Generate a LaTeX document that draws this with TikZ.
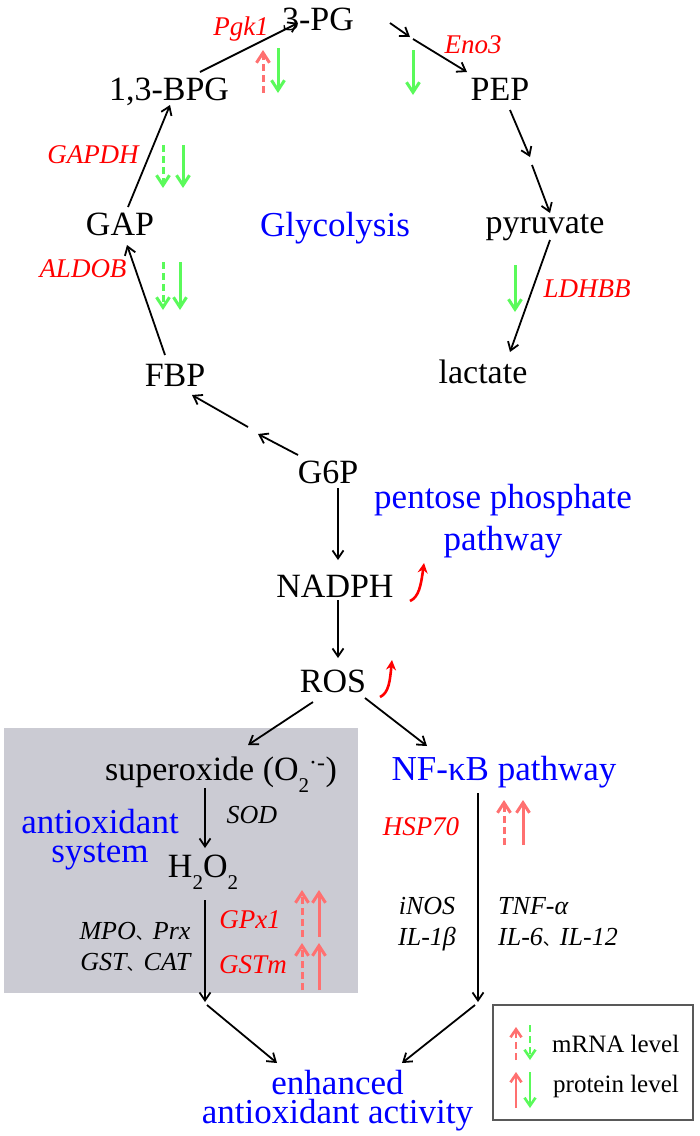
\documentclass[tikz,border=0pt]{standalone}
\usepackage{fontspec}
\setmainfont{Liberation Serif}
\newfontfamily\cjk{Noto Sans CJK SC}
\usetikzlibrary{arrows.meta,calc}
\definecolor{gr}{RGB}{90,250,90}
\definecolor{sal}{RGB}{255,112,112}
\definecolor{boxgray}{RGB}{203,203,211}
\definecolor{myblue}{RGB}{0,0,255}
\definecolor{myred}{RGB}{255,0,0}
\newcommand\dun{{\upshape\cjk\fontsize{17}{17}\selectfont 、}}
\newcommand\sbt[1]{\raisebox{-0.36em}{\fontsize{21}{21}\selectfont #1}}
\begin{document}
\begin{tikzpicture}[x=1pt,y=-1pt,
  lbl/.style={anchor=base,inner sep=0pt,font=\fontsize{34}{40}\selectfont},
  blu/.style={anchor=base,inner sep=0pt,text=myblue,font=\fontsize{35}{40}\selectfont},
  blu2/.style={anchor=base,inner sep=0pt,text=myblue,align=center,font=\fontsize{35}{28.5}\selectfont},
  enz/.style={anchor=base,inner sep=0pt,text=myred,font=\fontsize{27}{32}\selectfont\itshape},
  sm/.style={anchor=base,inner sep=0pt,font=\fontsize{26}{31}\selectfont\itshape},
  legt/.style={anchor=base west,inner sep=0pt,font=\fontsize{25}{30}\selectfont},
  arr/.style={line width=1.8pt,-{Straight Barb[length=8pt,width=11pt]}},
  ind/.style={line width=3pt,-{Straight Barb[length=10pt,width=13pt]}},
  lind/.style={line width=2.6pt,-{Straight Barb[length=8pt,width=11pt]}},
  dsh/.style={dash pattern=on 7pt off 4pt},
  uparr/.style={myred,line width=2.6pt,-{Stealth[length=10pt,width=10pt]}}
]
\useasboundingbox (0,0) rectangle (700,1136);
% antioxidant box
\fill[boxgray] (4,728) rectangle (358,993);

% nodes
\node[lbl] (pg3) at (318,30) {3-PG};
\node[lbl] (bpg) at (169,100) {1,3-BPG};
\node[lbl] (pep) at (500,100) {PEP};
\node[lbl] (gap) at (120,235) {GAP};
\node[lbl] (pyr) at (545,233) {pyruvate};
\node[lbl] (lac) at (483,383) {lactate};
\node[lbl] (fbp) at (175,386) {FBP};
\node[lbl] (g6p) at (328,483) {G6P};
\node[lbl] (nadph) at (335,597) {NADPH};
\node[lbl] (ros) at (333,692) {ROS};
\node[lbl] (sup) at (221,780) {superoxide (O\sbt{2}\textsuperscript{·-})};
\node[lbl] (h2o2) at (203,877) {H\sbt{2}O\sbt{2}};

\node[blu] (glyc) at (335,236) {Glycolysis};
\node[blu] (ppp1) at (503,508) {pentose phosphate};
\node[blu] (ppp2) at (503,550) {pathway};
\node[blu] (nfkb) at (504,780) {NF-κB pathway};
\node[blu2] (anti) at (100,862) {antioxidant\\system};
\node[blu2] (enh) at (337.5,1123) {enhanced\\antioxidant activity};

\node[enz] (pgk) at (241,35) {Pgk1};
\node[enz] (eno) at (473,53) {Eno3};
\node[enz] (gapdh) at (93,163) {GAPDH};
\node[enz] (aldob) at (83,277) {ALDOB};
\node[enz] (ldh) at (587,297) {LDHBB};
\node[enz] (hsp) at (421,835) {HSP70};
\node[enz] (gpx) at (250,928) {GPx1};
\node[enz] (gstm) at (253,973) {GSTm};

\node[sm] (sod) at (252,823) {SOD};
\node[sm,align=right] (mpo) at (135,970) {MPO\dun Prx\\GST\dun CAT};
\node[sm,align=center] (inos) at (427,945) {iNOS\\IL-1β};
\node[sm,align=left,anchor=base west] (tnf) at (498,945) {TNF-α\\IL-6\dun IL-12};

% break points
\coordinate (k1) at (411.5,38);
\coordinate (k2) at (531,161);
\coordinate (k3) at (253,430.5);
\coordinate (k4) at (205,1003);
\coordinate (k5) at (478,1003);

% connectors
\draw[arr] ($(bpg.base)+(31,-28)$) -- ($(pg3.base)+(-20,-7)$);
\draw[arr] ($(pg3.base)+(72,-7)$) -- ($(k1)+(-1.5,-1)$);
\draw[arr] ($(k1)+(1.5,1)$) -- ($(pep.base)+(-33,-28)$);
\draw[arr] ($(pep.base)+(10,10)$) -- ($(k2)+(-1,-4)$);
\draw[arr] ($(k2)+(1,4)$) -- ($(pyr.base)+(5,-20)$);
\draw[arr] ($(pyr.base)+(5,7)$) -- ($(lac.base)+(27,-31)$);
\draw[arr] ($(gap.base)+(8,-28)$) -- ($(bpg.base)+(1,5)$);
\draw[arr] ($(fbp.base)+(-10,-31)$) -- ($(gap.base)+(7,10)$);
\draw[arr] ($(g6p.base)+(-30,-28)$) -- ($(k3)+(5,3.5)$);
\draw[arr] ($(k3)+(-5,-3.5)$) -- ($(fbp.base)+(17,9)$);
\draw[arr] ($(g6p.base)+(10,5)$) -- ($(nadph.base)+(3,-37)$);
\draw[arr] ($(nadph.base)+(3,3)$) -- ($(ros.base)+(5,-34)$);
\draw[arr] ($(ros.base)+(-20,10)$) -- ($(sup.base)+(27,-35)$);
\draw[arr] ($(ros.base)+(32,6)$) -- ($(nfkb.base)+(-77,-34)$);
\draw[arr] ($(sup.base)+(-16,8)$) -- ($(h2o2.base)+(2,-29)$);
\draw[arr] ($(h2o2.base)+(2,23)$) -- ($(k4)+(0,-1)$);
\draw[arr] ($(k4)+(2,2)$) -- ($(enh.base)+(-60.5,-60)$);
\draw[arr] ($(nfkb.base)+(-26,13)$) -- ($(k5)+(0,-1)$);
\draw[arr] ($(k5)+(-3,2)$) -- ($(enh.base)+(64.5,-60)$);

% regulation indicators
\draw[ind,sal,dsh] (263,93) -- (263,50);
\draw[ind,gr] (278,48) -- (278,93);
\draw[ind,gr] (413,50) -- (413,95);
\draw[ind,gr,dsh] (163,145) -- (163,188);
\draw[ind,gr] (183,145) -- (183,188);
\draw[ind,gr,dsh] (163,262) -- (163,310);
\draw[ind,gr] (180,262) -- (180,310);
\draw[ind,gr] (515,265) -- (515,312);
\draw[ind,sal,dsh] (504,845) -- (504,800);
\draw[ind,sal] (523,845) -- (523,800);
\draw[ind,sal,dsh] (302,937) -- (302,890);
\draw[ind,sal] (319,937) -- (319,890);
\draw[ind,sal,dsh] (302,990) -- (302,943);
\draw[ind,sal] (319,990) -- (319,943);

% red increase arrows
\draw[uparr] (410,601) .. controls (419,597) and (421,585) .. (424,563);
\draw[uparr] (380,697) .. controls (389,693) and (390,680) .. (392,660);

% legend
\node[draw=black!65,line width=1.2pt,fill=white,minimum width=200pt,minimum height=115pt,inner sep=0pt] (leg) at (593,1062.5) {};
\draw[lind,sal,dsh] (516,1060) -- (516,1027);
\draw[lind,gr,dsh] (530,1025) -- (530,1060);
\draw[lind,sal] (516,1108) -- (516,1072);
\draw[lind,gr] (530,1072) -- (530,1108);
\node[legt] (lm) at (552,1052) {mRNA level};
\node[legt] (lp) at (553,1092) {protein level};
\end{tikzpicture}
\end{document}
